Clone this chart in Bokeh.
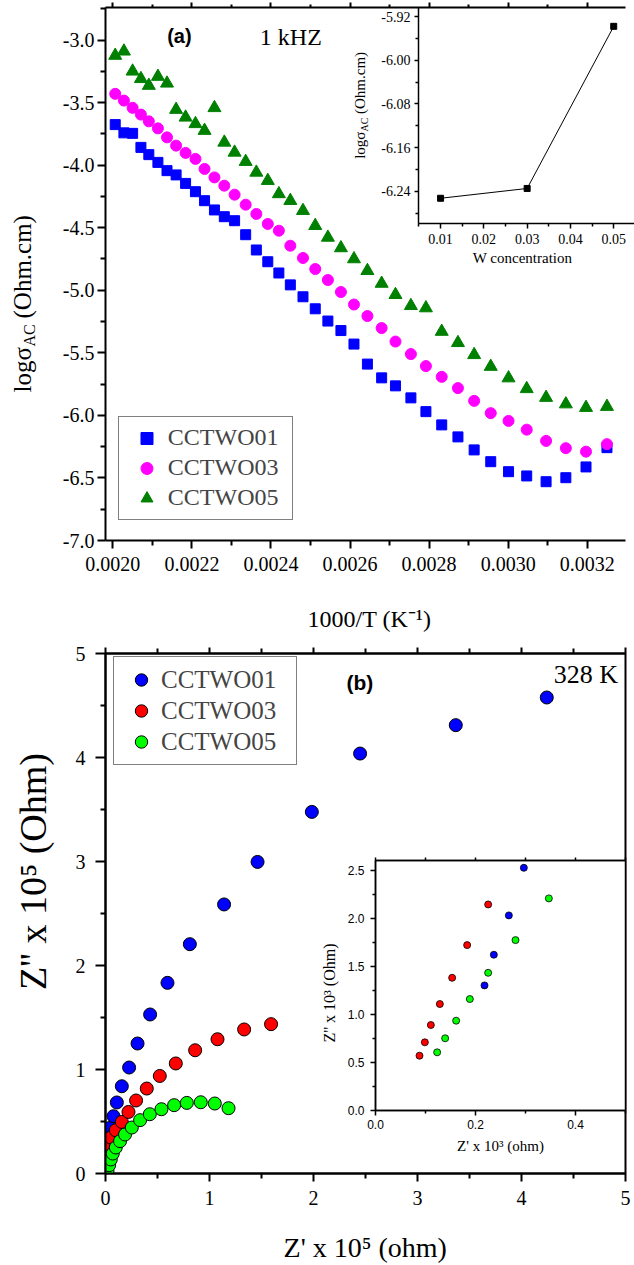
from math import pi
from bokeh.plotting import figure
from bokeh.layouts import column
from bokeh.models import (Range1d, LinearAxis, Label, Legend, LegendItem,
                          FixedTicker, PrintfTickFormatter, CustomJSTickFormatter)
from bokeh.embed import file_html
from bokeh.resources import INLINE

SERIF = "Liberation Serif"
SANS = "Liberation Sans"

# ---------------- panel (a) data : log sigma_AC vs 1000/T ----------------
inv_T = [0.002006, 0.002028, 0.002050, 0.002071, 0.002091, 0.002114, 0.002137, 0.002160,
         0.002184, 0.002209, 0.002232, 0.002257, 0.002282, 0.002308, 0.002336, 0.002363,
         0.002392, 0.002420, 0.002449, 0.002481, 0.002512, 0.002544, 0.002577, 0.002610,
         0.002644, 0.002680, 0.002715, 0.002754, 0.002792, 0.002832, 0.002873, 0.002914,
         0.002956, 0.003001, 0.003047, 0.003096, 0.003146, 0.003197, 0.003250]
sig_01 = [-3.676, -3.742, -3.746, -3.858, -3.916, -3.978, -4.044, -4.078, -4.146, -4.212,
          -4.284, -4.358, -4.412, -4.444, -4.556, -4.678, -4.772, -4.862, -4.957, -5.052,
          -5.148, -5.246, -5.322, -5.430, -5.590, -5.700, -5.764, -5.860, -5.970, -6.076,
          -6.172, -6.276, -6.370, -6.450, -6.484, -6.530, -6.498, -6.412, -6.258]
sig_03 = [-3.430, -3.484, -3.542, -3.596, -3.650, -3.706, -3.778, -3.844, -3.902, -3.950,
          -4.030, -4.098, -4.164, -4.236, -4.316, -4.390, -4.470, -4.524, -4.644, -4.742,
          -4.830, -4.918, -5.014, -5.114, -5.206, -5.302, -5.410, -5.510, -5.606, -5.692,
          -5.782, -5.884, -5.982, -6.044, -6.114, -6.204, -6.262, -6.290, -6.230]
sig_05 = [-3.124, -3.090, -3.250, -3.310, -3.364, -3.292, -3.346, -3.556, -3.618, -3.670,
          -3.724, -3.542, -3.818, -3.898, -3.972, -4.058, -4.124, -4.230, -4.284, -4.364,
          -4.484, -4.578, -4.662, -4.750, -4.844, -4.946, -5.036, -5.124, -5.142, -5.330,
          -5.420, -5.516, -5.610, -5.702, -5.788, -5.858, -5.910, -5.938, -5.930]
series_a = ["CCTWO01", "CCTWO03", "CCTWO05"]

# inset (a)
w_conc = [0.01, 0.03, 0.05]
sig_w = [-6.253, -6.235, -5.938]

# tick values
a_xticks = [0.0020, 0.0022, 0.0024, 0.0026, 0.0028, 0.0030, 0.0032]
a_xminor = [0.0019, 0.0021, 0.0023, 0.0025, 0.0027, 0.0029, 0.0031, 0.0033]
a_yticks = [-7.0, -6.5, -6.0, -5.5, -5.0, -4.5, -4.0, -3.5, -3.0]
a_yminor = [-6.75, -6.25, -5.75, -5.25, -4.75, -4.25, -3.75, -3.25, -2.75]
ia_xticks = [0.01, 0.02, 0.03, 0.04, 0.05]
ia_xminor = [0.005, 0.015, 0.025, 0.035, 0.045, 0.055]
ia_yticks = [-6.24, -6.16, -6.08, -6.00, -5.92]
ia_yminor = [-6.28, -6.20, -6.12, -6.04, -5.96]

# ---------------- panel (b) data : Nyquist plot at 328 K ----------------
zr_01 = [0.0125, 0.041, 0.077, 0.109, 0.157, 0.227, 0.308, 0.429, 0.596, 0.811, 1.140,
         1.462, 1.984, 2.448, 3.368, 4.243]
zi_01 = [0.337, 0.438, 0.551, 0.683, 0.839, 1.019, 1.250, 1.529, 1.833, 2.205, 2.587,
         2.996, 3.477, 4.038, 4.311, 4.577]
zr_03 = [0.020, 0.035, 0.051, 0.099, 0.157, 0.221, 0.294, 0.397, 0.522, 0.676, 0.862,
         1.077, 1.333, 1.592]
zi_03 = [0.200, 0.263, 0.346, 0.416, 0.496, 0.592, 0.702, 0.817, 0.938, 1.058, 1.185,
         1.291, 1.385, 1.436]
zr_05 = [0.019, 0.035, 0.051, 0.070, 0.099, 0.140, 0.188, 0.253, 0.333, 0.426, 0.538,
         0.660, 0.782, 0.916, 1.051, 1.183]
zi_05 = [0.025, 0.080, 0.135, 0.192, 0.250, 0.311, 0.375, 0.442, 0.513, 0.570, 0.618,
         0.657, 0.679, 0.685, 0.673, 0.628]
series_b = ["CCTWO01", "CCTWO03", "CCTWO05"]

# inset (b) (units 10^3 ohm)
izr_01 = [0.218, 0.2367, 0.2667, 0.2967]
izi_01 = [1.301, 1.620, 2.029, 2.524]
izr_03 = [0.088, 0.0987, 0.1107, 0.1287, 0.1533, 0.1833, 0.2253]
izi_03 = [0.570, 0.709, 0.889, 1.107, 1.380, 1.720, 2.143]
izr_05 = [0.1233, 0.1393, 0.1613, 0.1887, 0.2253, 0.280, 0.3467]
izi_05 = [0.605, 0.751, 0.934, 1.159, 1.432, 1.772, 2.206]

b_ticks = [0, 1, 2, 3, 4, 5]
b_minor = [0.5, 1.5, 2.5, 3.5, 4.5]
ib_xticks = [0.0, 0.2, 0.4]
ib_xminor = [0.1, 0.3, 0.5]
ib_yticks = [0.0, 0.5, 1.0, 1.5, 2.0, 2.5]
ib_yminor = [0.25, 0.75, 1.25, 1.75, 2.25]

NO_LABELS = CustomJSTickFormatter(code="return ''")


def style_axis(ax, major, minor, fmt, font, size, mout, nout, standoff, lw):
    ax.ticker = FixedTicker(ticks=major, minor_ticks=minor)
    ax.formatter = NO_LABELS if fmt is None else PrintfTickFormatter(format=fmt)
    ax.major_label_text_font = font
    ax.major_label_text_font_size = size
    ax.major_label_text_color = "black"
    ax.major_tick_in = 0
    ax.major_tick_out = mout
    ax.minor_tick_in = 0
    ax.minor_tick_out = nout
    ax.major_label_standoff = standoff
    ax.axis_line_width = lw
    ax.major_tick_line_width = lw
    ax.minor_tick_line_width = lw
    ax.axis_line_color = "black"
    ax.major_tick_line_color = "black"
    ax.minor_tick_line_color = "black"


def absolute(p, left, top):
    p.styles = {"position": "absolute", "left": f"{left}px", "top": f"{top}px"}
    p.frame_align = False


# ======================= panel (a) =======================
pa = figure(width=634, height=640, x_range=Range1d(0.0019814, 0.0032969),
            y_range=Range1d(-7.0, -2.740), output_backend="svg", toolbar_location=None,
            min_border_left=104, min_border_right=0, min_border_top=7, min_border_bottom=100)
pa.grid.visible = False
pa.outline_line_color = None
style_axis(pa.xaxis[0], a_xticks, a_xminor, "%.4f", SERIF, "20px", 8, 5, 8, 2)
style_axis(pa.yaxis[0], a_yticks, a_yminor, "%.1f", SERIF, "20px", 8, 5, 3, 2)
top_a = LinearAxis()
style_axis(top_a, a_xticks, a_xminor, None, SERIF, "1px", 5, 3, 0, 2)
pa.add_layout(top_a, "above")

ra1 = pa.scatter(inv_T, sig_01, marker="square", size=10, fill_color="#0000FF", line_color="#0000FF")
ra2 = pa.scatter(inv_T, sig_03, marker="circle", size=11, fill_color="#FF00FF", line_color="#FF00FF")
ra3 = pa.scatter(inv_T, sig_05, marker="triangle", size=13, fill_color="#008000", line_color="#008000")

leg_a = Legend(items=[LegendItem(label=series_a[0], renderers=[ra1]),
                      LegendItem(label=series_a[1], renderers=[ra2]),
                      LegendItem(label=series_a[2], renderers=[ra3])],
               location=(12.8, 20.2), padding=6, spacing=0, glyph_width=43, glyph_height=30,
               label_standoff=0, label_width=118, label_text_font=SERIF,
               label_text_font_size="24px", border_line_color="black", border_line_width=1.5,
               background_fill_color="white", background_fill_alpha=1.0)
pa.add_layout(leg_a)

# ======================= inset (a) =======================
ia = figure(width=294, height=280, x_range=Range1d(0.0049, 0.0548),
            y_range=Range1d(-6.2992, -5.9035), output_backend="svg", toolbar_location=None,
            min_border_left=78, min_border_right=0, min_border_top=7, min_border_bottom=57)
absolute(ia, 340, 0)
ia.grid.visible = False
ia.outline_line_color = None
ia.background_fill_color = None
ia.border_fill_color = None
style_axis(ia.xaxis[0], ia_xticks, ia_xminor, "%.2f", SERIF, "14px", 5, 3, 5, 1.5)
style_axis(ia.yaxis[0], ia_yticks, ia_yminor, "%.2f", SERIF, "14px", 4, 3, 4, 1.5)
ia.line(w_conc, sig_w, line_color="black", line_width=1)
ia.scatter(w_conc, sig_w, marker="square", size=6, fill_color="black", line_color="black")

# ======================= panel (b) =======================
pb = figure(width=634, height=625, x_range=Range1d(0, 5), y_range=Range1d(0, 5),
            output_backend="svg", toolbar_location=None,
            min_border_left=105, min_border_right=9, min_border_top=13, min_border_bottom=92)
pb.grid.visible = False
pb.outline_line_color = "black"
pb.outline_line_width = 2
style_axis(pb.xaxis[0], b_ticks, b_minor, "%d", SERIF, "20px", 8, 5, 9, 2)
style_axis(pb.yaxis[0], b_ticks, b_minor, "%d", SERIF, "20px", 10, 5, 10, 2)
top_b = LinearAxis()
style_axis(top_b, b_ticks, b_minor, None, SERIF, "1px", 6, 5, 0, 2)
pb.add_layout(top_b, "above")

rb1 = pb.scatter(zr_01, zi_01, marker="circle", size=13, fill_color="#0000FF", line_color="black", line_width=1)
rb2 = pb.scatter(zr_03, zi_03, marker="circle", size=13, fill_color="#FF0000", line_color="black", line_width=1)
rb3 = pb.scatter(zr_05, zi_05, marker="circle", size=13, fill_color="#00FF00", line_color="black", line_width=1)

leg_b = Legend(items=[LegendItem(label=series_b[0], renderers=[rb1]),
                      LegendItem(label=series_b[1], renderers=[rb2]),
                      LegendItem(label=series_b[2], renderers=[rb3])],
               location=(8, 407.6), padding=7, spacing=0, glyph_width=40, glyph_height=31,
               label_standoff=0, label_width=128, label_text_font=SERIF,
               label_text_font_size="25px", border_line_color="black", border_line_width=1.5,
               background_fill_color="white", background_fill_alpha=1.0)
pb.add_layout(leg_b)

# ======================= inset (b) =======================
ib = figure(width=320, height=310, x_range=Range1d(0, 0.5), y_range=Range1d(0, 2.6),
            output_backend="svg", toolbar_location=None,
            min_border_left=65, min_border_right=5, min_border_top=10, min_border_bottom=50)
absolute(ib, 310, 850)
ib.grid.visible = False
ib.outline_line_color = "black"
ib.outline_line_width = 1.5
ib.background_fill_color = "white"
ib.border_fill_color = None
style_axis(ib.xaxis[0], ib_xticks, ib_xminor, "%.1f", SANS, "12px", 5, 3, 4, 1.5)
style_axis(ib.yaxis[0], ib_yticks, ib_yminor, "%.1f", SANS, "12px", 5, 3, 6, 1.5)
top_ib = LinearAxis()
style_axis(top_ib, ib_xticks, ib_xminor, None, SANS, "1px", 3, 3, 0, 1.5)
ib.add_layout(top_ib, "above")
ib.scatter(izr_01, izi_01, marker="circle", size=7, fill_color="#0000FF", line_color="black", line_width=0.8)
ib.scatter(izr_03, izi_03, marker="circle", size=7, fill_color="#FF0000", line_color="black", line_width=0.8)
ib.scatter(izr_05, izi_05, marker="circle", size=7, fill_color="#00FF00", line_color="black", line_width=0.8)

# ============ text overlay (titles and annotations), page coordinates ============
H = 1265
ov = figure(width=634, height=H, x_range=Range1d(0, 634), y_range=Range1d(0, H),
            output_backend="svg", toolbar_location=None, x_axis_location=None,
            y_axis_location=None, min_border=0)
absolute(ov, 0, 0)
ov.grid.visible = False
ov.outline_line_color = None
ov.background_fill_color = None
ov.border_fill_color = None


def txt(text, x, page_y, size, font=SERIF, angle=0.0, align="left", style="normal"):
    ov.add_layout(Label(x=x, y=H - page_y, x_units="screen", y_units="screen", text=text,
                        text_font=font, text_font_size=size, text_font_style=style,
                        angle=angle, text_align=align, text_baseline="middle",
                        text_color="black"))


# panel (a)
txt("(a)", 166.7, 35, "20px", font=SANS, style="bold")
txt("1 kHZ", 259.3, 36.5, "24px")
txt("1000/T (K\u207b\u00b9)", 369, 618, "24px", align="center")
txt("log\u03c3", 22, 392, "25px", angle=pi / 2)
txt("AC", 29, 346, "16px", angle=pi / 2)
txt("(Ohm.cm)", 22, 318, "25px", angle=pi / 2)
# inset (a)
txt("W concentration", 522, 257, "15px", align="center")
txt("log\u03c3", 359, 158.3, "15px", angle=pi / 2)
txt("AC", 363.5, 131, "10px", angle=pi / 2)
txt("(Ohm.cm)", 359, 113.5, "15px", angle=pi / 2)
# panel (b)
txt("(b)", 346, 682, "21px", font=SANS, style="bold")
txt("328 K", 553.3, 674, "26px")
txt("Z' x 10\u2075 (ohm)", 364.7, 1247, "28px", align="center")
txt("Z'' x 10\u2075 (Ohm)", 32, 871, "38px", angle=pi / 2, align="center")
# inset (b)
txt("Z' x 10\u00b3 (ohm)", 500, 1145, "15px", align="center")
txt("Z'' x 10\u00b3 (Ohm)", 329, 992.5, "16px", angle=pi / 2, align="center")

root = column(pa, pb, ia, ib, ov, styles={"position": "absolute", "left": "0px", "top": "0px"})

open("out.html", "w").write(file_html(root, INLINE, title="CCTWO conductivity and impedance"))
